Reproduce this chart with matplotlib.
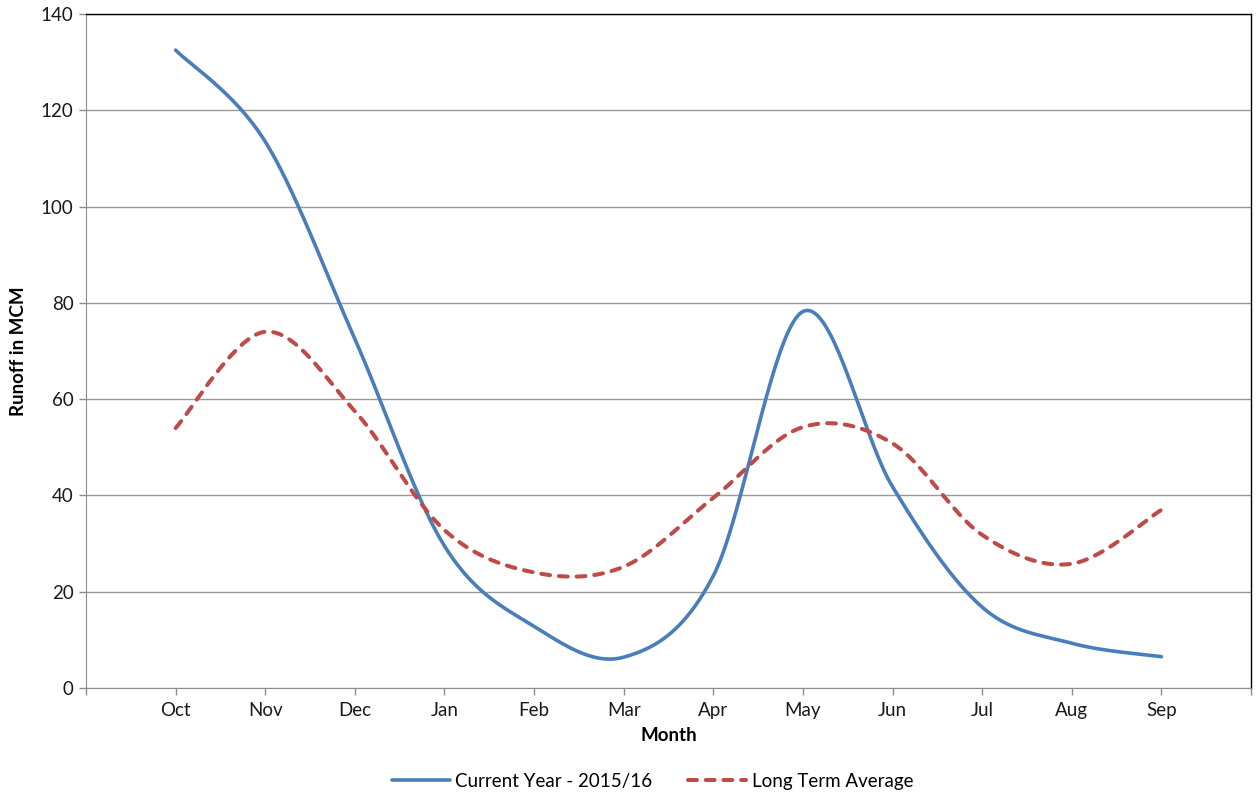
import numpy as np
import matplotlib
matplotlib.use("Agg")
import matplotlib.pyplot as plt

months = ["Oct", "Nov", "Dec", "Jan", "Feb", "Mar", "Apr", "May", "Jun", "Jul", "Aug", "Sep"]
current_year = [132.5, 113.5, 72.5, 29.5, 12.8, 6.4, 23.3, 78.2, 41.8, 16.8, 9.3, 6.5]
long_term = [54.0, 74.0, 57.5, 32.8, 24.0, 25.2, 39.5, 54.2, 50.8, 31.8, 25.8, 37.0]

plt.rcParams['font.family'] = ['Lato', 'DejaVu Sans']

fig = plt.figure(figsize=(12.57, 7.98), dpi=100)
ax = fig.add_axes([86/1257, 1-688/798, (1251-86)/1257, (688-14)/798])


def smooth(xs, ys, n=40):
    xs = np.asarray(xs, float)
    ys = np.asarray(ys, float)
    px = np.concatenate([[xs[0]], xs, [xs[-1]]])
    py = np.concatenate([[ys[0]], ys, [ys[-1]]])
    outx, outy = [], []
    t = np.linspace(0, 1, n)
    for i in range(1, len(px) - 2):
        p0 = np.array([px[i], py[i]])
        p3 = np.array([px[i+1], py[i+1]])
        c1 = p0 + (np.array([px[i+1], py[i+1]]) - np.array([px[i-1], py[i-1]])) / 6
        c2 = p3 - (np.array([px[i+2], py[i+2]]) - np.array([px[i], py[i]])) / 6
        b = ((1-t)**3)[:, None]*p0 + (3*(1-t)**2*t)[:, None]*c1 + (3*(1-t)*t**2)[:, None]*c2 + (t**3)[:, None]*p3
        if i > 1:
            b = b[1:]
        outx.extend(b[:, 0]); outy.extend(b[:, 1])
    return np.array(outx), np.array(outy)


x = np.arange(len(months))
cx, cy = smooth(x, current_year)
lx, ly = smooth(x, long_term)

ax.plot(cx, cy, color='#4A7EBB', lw=2.6, solid_capstyle='round', label='Current Year - 2015/16', zorder=3)
ax.plot(lx, ly, color='#BE4B48', lw=2.9, linestyle=(0, (2.2, 2.2)), dash_capstyle='round',
        label='Long Term Average', zorder=3)

ax.set_xlim(-1, 12)
ax.set_ylim(0, 140)
ax.set_yticks(range(0, 141, 20))
ax.set_xticks(range(-1, 13))
ax.set_xticklabels([''] + months + [''])
ax.yaxis.grid(True, color='#9a9a9a', lw=1)
ax.set_axisbelow(True)
for s in ['left', 'bottom']:
    ax.spines[s].set_color('#8c8c8c')
for s in ['top', 'right']:
    ax.spines[s].set_color('black')
    ax.spines[s].set_linewidth(1.0)
ax.tick_params(axis='both', colors='#8c8c8c', labelcolor='#1a1a1a', labelsize=13.5, length=5, width=1)
ax.tick_params(axis='x', pad=5)
ax.tick_params(axis='y', pad=4)

ax.set_xlabel('Month', fontsize=13.5, fontweight='bold', labelpad=6)
ax.set_ylabel('Runoff in MCM', fontsize=13.5, fontweight='bold', labelpad=10)

leg = fig.legend(loc='center', bbox_to_anchor=(0.519, 1-781/798), ncol=2, frameon=False,
                 fontsize=13.5, handlelength=3.1, columnspacing=1.9, handletextpad=0.3)

fig.savefig('out.png', dpi=100)
